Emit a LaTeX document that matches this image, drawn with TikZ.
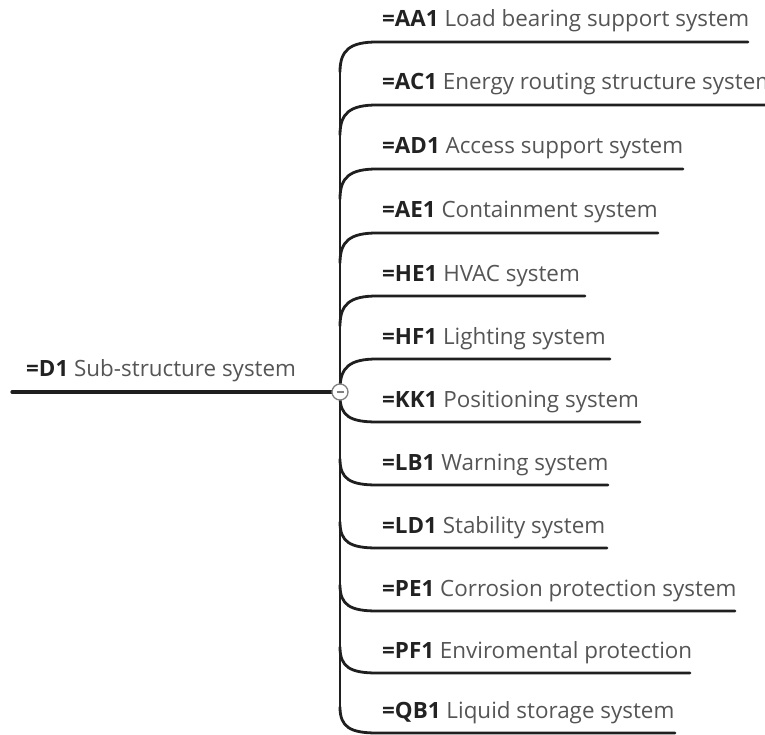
\documentclass[tikz,border=0pt]{standalone}
\usepackage{fontspec}
\setmainfont{Open Sans}
\usepackage{xcolor}
\definecolor{txtgray}{HTML}{555555}
\definecolor{codegray}{HTML}{222222}

\tikzset{
  branch/.style={line width=2.8pt, color=black!88, line cap=round},
  lbl/.style={anchor=base west, inner sep=0pt, text=txtgray, font=\fontsize{22.4}{25}\selectfont},
  hub/.style={circle, draw=gray, fill=white, line width=1.3pt, minimum size=16pt, inner sep=0pt}
}
\newcommand{\code}[1]{\textcolor{codegray}{\textbf{=#1}}}

\begin{document}
\begin{tikzpicture}[x=1pt,y=-1pt]
\useasboundingbox (0,0) rectangle (765,735);

% root
\coordinate (d1-l) at (12,392);
\node[lbl] (d1) at (26,376) {\code{D1} Sub-structure system};
\coordinate (trunk-top) at (340,72);
\coordinate (trunk-bot) at (340,710);
\draw[branch] (trunk-top) -- (trunk-bot);
\draw[branch, line width=3.2pt] (d1-l) -- (340,392) coordinate (hub-w);

% children: name / y / end x / text
\foreach \nm/\yy/\xe/\cd/\txt in {
    aa1/42/748/AA1/Load bearing support system,
    ac1/105/770/AC1/Energy routing structure system,
    ad1/169/683/AD1/Access support system,
    ae1/233/658/AE1/Containment system,
    he1/296/585/HE1/HVAC system,
    hf1/359/610/HF1/Lighting system}{
  \coordinate (\nm-l) at (377,\yy);
  \coordinate (\nm-r) at (\xe,\yy);
  \coordinate (\nm-t) at (340,\yy+30);
  \node[lbl] (\nm) at (382,\yy-15) {\code{\cd} \txt};
  \draw[branch] (\nm-t) .. controls (340,\yy+8) and (350,\yy) .. (\nm-l) -- (\nm-r);
}
\foreach \nm/\yy/\xe/\cd/\txt in {
    kk1/422/640/KK1/Positioning system,
    lb1/485/608/LB1/Warning system,
    ld1/548/607/LD1/Stability system,
    pe1/611/735/PE1/Corrosion protection system,
    pf1/673/690/PF1/Enviromental protection,
    qb1/733/675/QB1/Liquid storage system}{
  \coordinate (\nm-l) at (377,\yy);
  \coordinate (\nm-r) at (\xe,\yy);
  \coordinate (\nm-t) at (340,\yy-26);
  \node[lbl] (\nm) at (382,\yy-15) {\code{\cd} \txt};
  \draw[branch] (\nm-t) .. controls (340,\yy-6) and (350,\yy) .. (\nm-l) -- (\nm-r);
}

% collapse button
\node[hub] (btn) at (340,392) {};
\draw[gray, line width=1.5pt] ([xshift=-3.5pt]btn.center) -- ([xshift=3.5pt]btn.center);
\end{tikzpicture}
\end{document}
